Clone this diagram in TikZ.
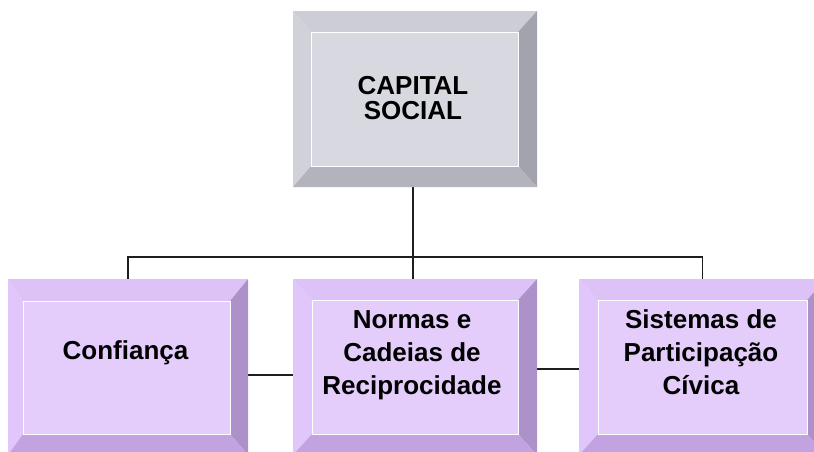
\documentclass[tikz,border=0pt]{standalone}
\usepackage{fontspec}
\setmainfont{Liberation Sans}
\usetikzlibrary{calc}
\definecolor{gtop}{HTML}{CDCDD5}
\definecolor{gleft}{HTML}{D1D1D9}
\definecolor{gface}{HTML}{D8D8E0}
\definecolor{gright}{HTML}{A3A3AD}
\definecolor{gbot}{HTML}{B3B3BD}
\definecolor{ptop}{HTML}{DDC2F7}
\definecolor{pleft}{HTML}{E0C6FA}
\definecolor{pface}{HTML}{E4CDFB}
\definecolor{pright}{HTML}{AD92C9}
\definecolor{pbot}{HTML}{C2A2E0}
\definecolor{linec}{HTML}{1E1E1E}
\newcommand\bevelbox[6]{%
  \fill[#2top] (#1.north west) -- (#1.north east) -- ($(#1.north east)+(-#5,#4)$) -- ($(#1.north west)+(#3,#4)$) -- cycle;
  \fill[#2left] (#1.north west) -- ($(#1.north west)+(#3,#4)$) -- ($(#1.south west)+(#3,-#6)$) -- (#1.south west) -- cycle;
  \fill[#2right] (#1.north east) -- (#1.south east) -- ($(#1.south east)+(-#5,-#6)$) -- ($(#1.north east)+(-#5,#4)$) -- cycle;
  \fill[#2bot] (#1.south west) -- ($(#1.south west)+(#3,-#6)$) -- ($(#1.south east)+(-#5,-#6)$) -- (#1.south east) -- cycle;
  \filldraw[fill=#2face, draw=white, line width=1pt] ($(#1.north west)+(#3,#4)$) rectangle ($(#1.south east)+(-#5,-#6)$);
}
\begin{document}
\begin{tikzpicture}[x=1pt,y=-1pt,
  boxshape/.style={rectangle, inner sep=0pt, outer sep=0pt},
  toplabel/.style={font=\fontsize{26}{25}\selectfont\bfseries, align=center, anchor=base, inner sep=0pt, text=black},
  sublabel/.style={font=\fontsize{26}{33}\selectfont\bfseries, align=center, anchor=base, inner sep=0pt, text=black},
  conn/.style={draw=linec, line width=1.5pt}]
\fill[white] (0,0) rectangle (814,451);
\useasboundingbox (0,0) rectangle (814,451);
% boxes
\node[boxshape, minimum width=244pt, minimum height=176pt] (cap) at (415,99) {};
\node[boxshape, minimum width=240pt, minimum height=176pt] (conf) at (128,367) {};
\node[boxshape, minimum width=244pt, minimum height=176pt] (norm) at (415,367) {};
\node[boxshape, minimum width=247pt, minimum height=176pt] (sist) at (702.5,367) {};
% connectors
\coordinate (bus) at (413,257);
\draw[conn] (cap.south -| bus) -- (bus);
\draw[conn] (bus) -- (bus |- norm.north);
\draw[conn] (conf.north) |- (bus) -| (sist.north);
\draw[conn] ([yshift=-8pt]conf.east) -- ([yshift=-8pt]norm.west);
\draw[conn] ([yshift=-2pt]norm.east) -- ([yshift=-2pt]sist.west);
% bevels
\bevelbox{cap}{g}{18}{21}{19}{21}
\bevelbox{conf}{p}{15}{22}{18}{21}
\bevelbox{norm}{p}{19}{21}{19}{21}
\bevelbox{sist}{p}{19}{21}{19}{21}
% labels
\node[toplabel] (t0) at (413,119) {CAPITAL\\SOCIAL};
\node[sublabel] (t1) at (125.5,359) {Confiança};
\node[sublabel] (t2) at (412,394) {Normas e\\Cadeias de\\Reciprocidade};
\node[sublabel] (t3) at (701,394) {Sistemas de\\Participação\\Cívica};
\end{tikzpicture}
\end{document}
